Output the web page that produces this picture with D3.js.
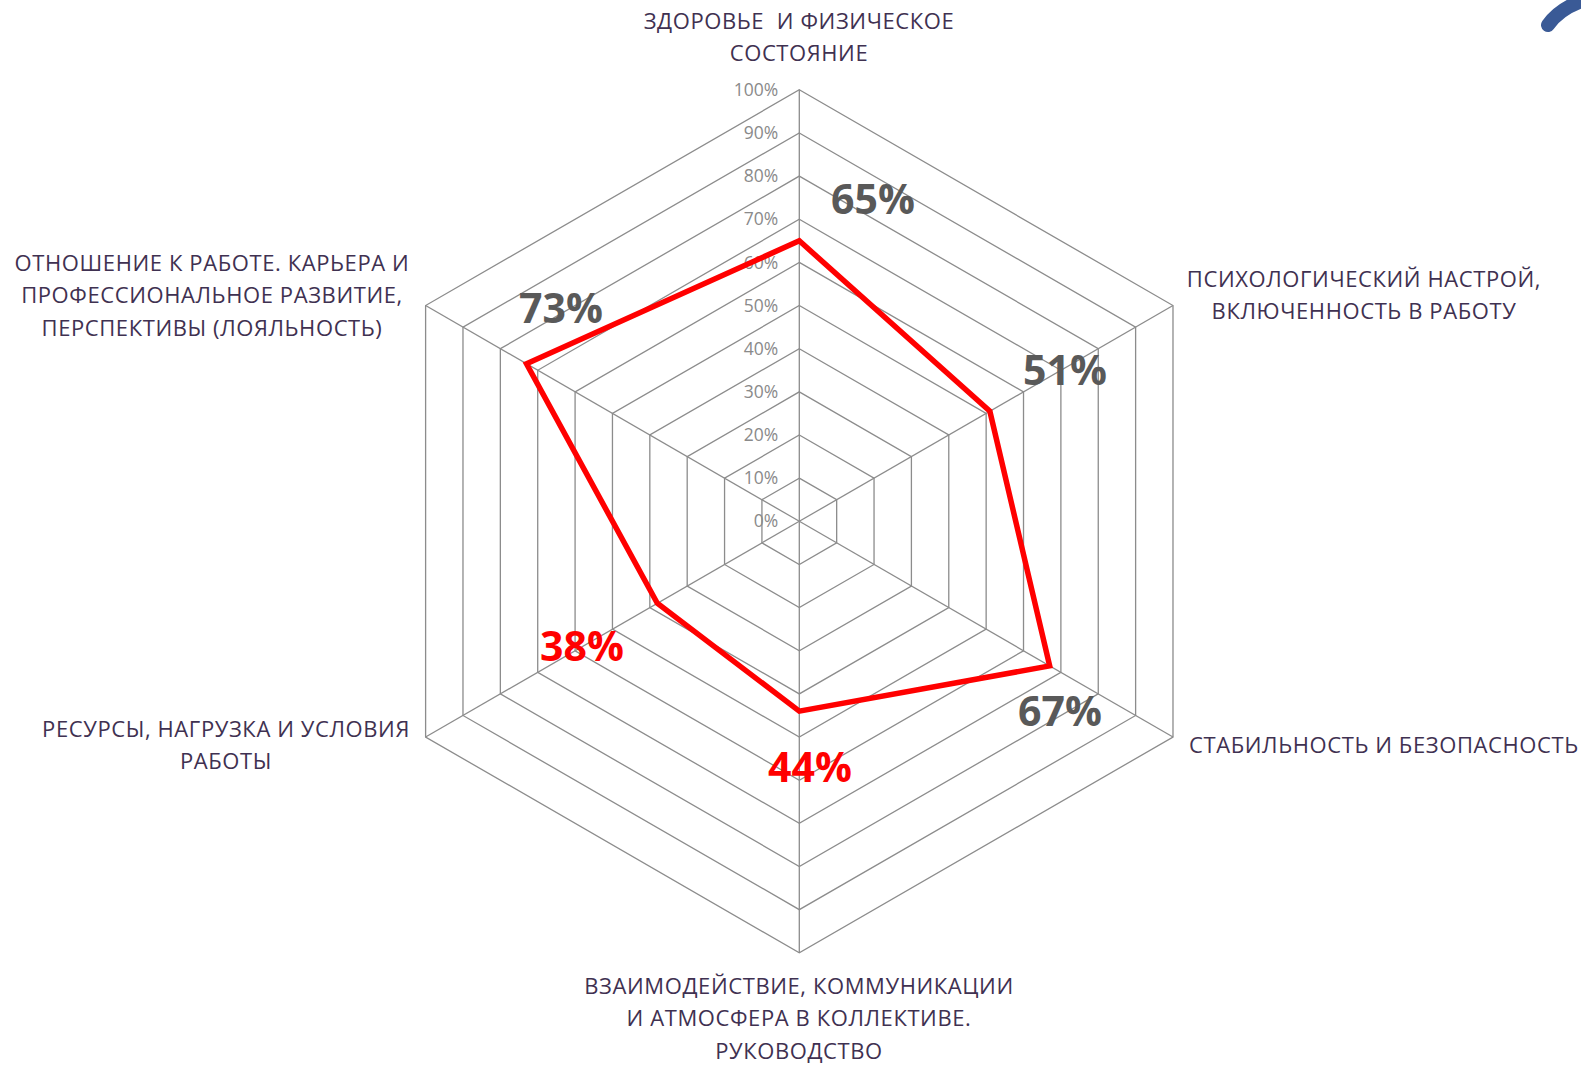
<!DOCTYPE html>
<html><head><meta charset="utf-8">
<script src="https://cdn.jsdelivr.net/npm/d3@7"></script>
<style>html,body{margin:0;padding:0;background:#fff;} text{white-space:pre;}</style>
</head><body>
<svg id="c" width="1581" height="1065"></svg>
<script>
const categories = [
  ["ЗДОРОВЬЕ  И ФИЗИЧЕСКОЕ", "СОСТОЯНИЕ"],
  ["ПСИХОЛОГИЧЕСКИЙ НАСТРОЙ,", "ВКЛЮЧЕННОСТЬ В РАБОТУ"],
  ["СТАБИЛЬНОСТЬ И БЕЗОПАСНОСТЬ"],
  ["ВЗАИМОДЕЙСТВИЕ, КОММУНИКАЦИИ", "И АТМОСФЕРА В КОЛЛЕКТИВЕ.", "РУКОВОДСТВО"],
  ["РЕСУРСЫ, НАГРУЗКА И УСЛОВИЯ", "РАБОТЫ"],
  ["ОТНОШЕНИЕ К РАБОТЕ. КАРЬЕРА И", "ПРОФЕССИОНАЛЬНОЕ РАЗВИТИЕ,", "ПЕРСПЕКТИВЫ (ЛОЯЛЬНОСТЬ)"]
];
const values = [0.65, 0.51, 0.67, 0.44, 0.38, 0.73];
const valueLabels = ["65%", "51%", "67%", "44%", "38%", "73%"];
const valueLabelColors = ["#595959", "#595959", "#595959", "#ff0000", "#ff0000", "#595959"];
const ticks = [0, 0.1, 0.2, 0.3, 0.4, 0.5, 0.6, 0.7, 0.8, 0.9, 1.0];
const tickLabels = ["0%", "10%", "20%", "30%", "40%", "50%", "60%", "70%", "80%", "90%", "100%"];

const svg = d3.select("#c");
const cx = 799.3, cy = 521.3, R = 431.5;
const r = d3.scaleLinear().domain([0, 1]).range([0, R]);
const n = categories.length;
const ang = d3.scaleLinear().domain([0, n]).range([0, 2 * Math.PI]);
const pt = (i, v) => [cx + r(v) * Math.sin(ang(i)), cy - r(v) * Math.cos(ang(i))];

const g = svg.append("g");
ticks.forEach(t => {
  const pts = d3.range(n).map(i => pt(i, t));
  g.append("path")
    .attr("d", d3.line()(pts) + "Z")
    .attr("fill", "none").attr("stroke", "#8c8c8c").attr("stroke-width", 1.3);
});
d3.range(n).forEach(i => {
  g.append("line")
    .attr("x1", cx).attr("y1", cy)
    .attr("x2", pt(i, 1)[0]).attr("y2", pt(i, 1)[1])
    .attr("stroke", "#8c8c8c").attr("stroke-width", 1.3);
});
ticks.forEach((t, k) => {
  g.append("text")
    .attr("x", cx - 21).attr("y", cy - r(t))
    .attr("dy", "0.35em")
    .attr("text-anchor", "end")
    .attr("font-family", "Open Sans, sans-serif")
    .attr("font-size", 17.5)
    .attr("fill", "#8a8a8a")
    .text(tickLabels[k]);
});
const linePts = values.map((v, i) => pt(i, v));
g.append("path")
  .attr("d", d3.line()(linePts) + "Z")
  .attr("fill", "none").attr("stroke", "#ff0000").attr("stroke-width", 5.5)
  .attr("stroke-linejoin", "miter");

const vlPos = [[873, 200], [1065, 371], [1060, 712], [810, 768], [582, 647], [561, 309]];
values.forEach((v, i) => {
  g.append("text")
    .attr("x", vlPos[i][0]).attr("y", vlPos[i][1])
    .attr("dy", "0.35em").attr("text-anchor", "middle")
    .attr("font-family", "Open Sans, sans-serif").attr("font-weight", "bold")
    .attr("font-size", 41)
    .attr("fill", valueLabelColors[i])
    .text(valueLabels[i]);
});

const catPos = [
  {x: 799, y: 21, a: "middle"},
  {x: 1364, y: 279, a: "middle"},
  {x: 1189, y: 745, a: "start"},
  {x: 799, y: 986, a: "middle"},
  {x: 226, y: 729, a: "middle"},
  {x: 212, y: 263, a: "middle"}
];
categories.forEach((lines, i) => {
  const t = g.append("text")
    .attr("text-anchor", catPos[i].a)
    .attr("font-family", "Open Sans, sans-serif")
    .attr("font-size", 22)
    .attr("letter-spacing", 0.6)
    .attr("fill", "#3f3151");
  lines.forEach((l, j) => {
    t.append("tspan").attr("x", catPos[i].x).attr("y", catPos[i].y + j * 32.5)
      .attr("dy", "0.35em").text(l);
  });
});

svg.append("path")
  .attr("d", "M1548,25 Q1560,8 1585,0")
  .attr("fill", "none").attr("stroke", "#3a5a96").attr("stroke-width", 14)
  .attr("stroke-linecap", "round");
</script>
</body></html>
